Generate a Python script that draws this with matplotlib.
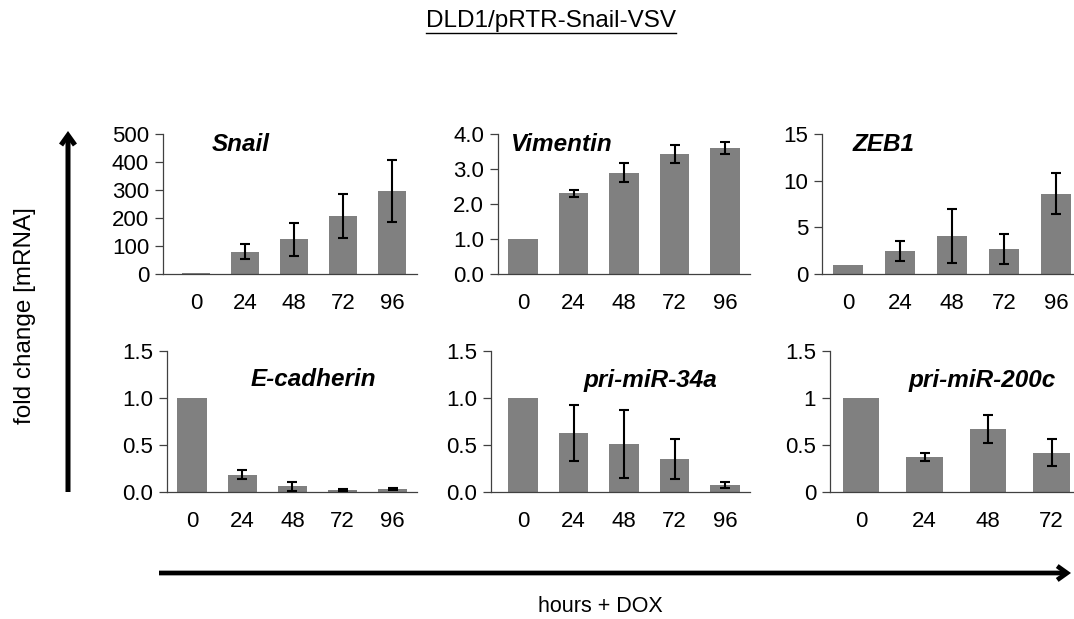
import matplotlib
matplotlib.use("Agg")
import matplotlib.pyplot as plt
from matplotlib.lines import Line2D
from matplotlib.patches import FancyArrowPatch
from matplotlib.ticker import FixedLocator, FixedFormatter

plt.rcParams.update({
    "font.family": ["Liberation Sans", "DejaVu Sans"],
    "font.size": 16,
})

W, H = 1074, 619
BAR = "#808080"

hours5 = ["0", "24", "48", "72", "96"]
hours4 = ["0", "24", "48", "72"]

snail = [3, 80, 124, 207, 295]
snail_err = [0, 28, 58, 77, 111]
vimentin = [1.0, 2.30, 2.89, 3.42, 3.61]
vimentin_err = [0, 0.10, 0.27, 0.26, 0.17]
zeb1 = [1.0, 2.42, 4.1, 2.64, 8.62]
zeb1_err = [0, 1.07, 2.9, 1.6, 2.2]
ecad = [1.0, 0.185, 0.06, 0.025, 0.035]
ecad_err = [0, 0.045, 0.045, 0.01, 0.012]
mir34a = [1.0, 0.63, 0.51, 0.35, 0.075]
mir34a_err = [0, 0.30, 0.36, 0.21, 0.03]
mir200c = [1.0, 0.37, 0.67, 0.42]
mir200c_err = [0, 0.04, 0.15, 0.14]

# name, cats, values, errors, yticks, ytick labels
panels = [
    ("Snail", hours5, snail, snail_err, [0, 100, 200, 300, 400, 500],
     ["0", "100", "200", "300", "400", "500"]),
    ("Vimentin", hours5, vimentin, vimentin_err, [0, 1, 2, 3, 4],
     ["0.0", "1.0", "2.0", "3.0", "4.0"]),
    ("ZEB1", hours5, zeb1, zeb1_err, [0, 5, 10, 15], ["0", "5", "10", "15"]),
    ("E-cadherin", hours5, ecad, ecad_err, [0, 0.5, 1.0, 1.5],
     ["0.0", "0.5", "1.0", "1.5"]),
    ("pri-miR-34a", hours5, mir34a, mir34a_err, [0, 0.5, 1.0, 1.5],
     ["0.0", "0.5", "1.0", "1.5"]),
    ("pri-miR-200c", hours4, mir200c, mir200c_err, [0, 0.5, 1.0, 1.5],
     ["0", "0.5", "1", "1.5"]),
]

# pixel geometry: axis left, axis right, top, zero line, first bar centre, bar pitch
geom = [
    (163, 417, 134, 274, 196, 49.0),
    (498, 750, 134, 274, 523, 50.5),
    (822, 1074, 134, 274, 848, 52.0),
    (167, 417, 351, 492, 192, 50.2),
    (491, 750, 351, 492, 523, 50.5),
    (830, 1074, 351, 492, 861, 63.5),
]
# gene label centres (pixels)
label_pos = [(241, 145), (562, 145), (884, 145),
             (313, 380), (650, 380), (982, 380)]

fig = plt.figure(figsize=(W / 100, H / 100), dpi=100)
fig.patch.set_facecolor("white")


def fx(x):
    return x / W


def fy(y):
    return 1 - y / H


for (name, cats, vals, errs, yt, ytl), (x0, x1, yt_px, y0_px, c0, sp), lp in zip(
        panels, geom, label_pos):
    ax = fig.add_axes([fx(x0), fy(y0_px), (x1 - x0) / W, (y0_px - yt_px) / H])
    n = len(vals)
    xs = list(range(n))
    ax.bar(xs, vals, width=0.58, color=BAR, edgecolor="none", zorder=2)
    e_x = [x for x, e in zip(xs, errs) if e > 0]
    e_v = [v for v, e in zip(vals, errs) if e > 0]
    e_e = [e for e in errs if e > 0]
    ax.errorbar(e_x, e_v, yerr=e_e, fmt="none", ecolor="black",
                elinewidth=1.5, capsize=3.5, capthick=1.5, zorder=3)
    ax.set_xlim(-(c0 - x0) / sp, (n - 1) + (x1 - (c0 + (n - 1) * sp)) / sp)
    ax.set_ylim(yt[0], yt[-1])
    ax.yaxis.set_major_locator(FixedLocator(yt))
    ax.yaxis.set_major_formatter(FixedFormatter(ytl))
    ax.set_xticks(xs)
    ax.set_xticklabels(cats)
    ax.tick_params(axis="x", length=0, pad=14, labelsize=16)
    ax.tick_params(axis="y", length=6, width=0.9, direction="out", pad=4,
                   labelsize=16, color="#404040")
    for s in ("top", "right"):
        ax.spines[s].set_visible(False)
    for s in ("left", "bottom"):
        ax.spines[s].set_color("#404040")
        ax.spines[s].set_linewidth(0.9)
    ax.set_facecolor("none")
    fig.text(fx(lp[0]), fy(lp[1]), name, ha="center", va="center",
             fontsize=17.5, fontweight="bold", fontstyle="italic")

# title with underline
title = fig.text(fx(551), fy(21), "DLD1/pRTR-Snail-VSV", ha="center",
                 va="center", fontsize=17.5)
fig.canvas.draw()
bb = title.get_window_extent(fig.canvas.get_renderer())
fig.add_artist(Line2D([bb.x0 / W, bb.x1 / W], [fy(33), fy(33)],
                      color="black", lw=1.0, transform=fig.transFigure))

# axis labels and big arrows
fig.text(fx(25), fy(316), "fold change [mRNA]", rotation=90, ha="center",
         va="center", fontsize=17.5)
fig.text(fx(600), fy(606), "hours + DOX", ha="center", va="center",
         fontsize=15.5)

for start, end, lw in (((68, 492), (68, 131), 3.6),
                       ((159, 573), (1071, 573), 3.4)):
    fig.add_artist(FancyArrowPatch((fx(start[0]), fy(start[1])),
                                   (fx(end[0]), fy(end[1])),
                                   transform=fig.transFigure,
                                   arrowstyle="->,head_length=7,head_width=5",
                                   lw=lw, color="black", capstyle="butt",
                                   joinstyle="miter", mutation_scale=1,
                                   shrinkA=0, shrinkB=0))

fig.savefig("out.png", dpi=100, facecolor="white")
